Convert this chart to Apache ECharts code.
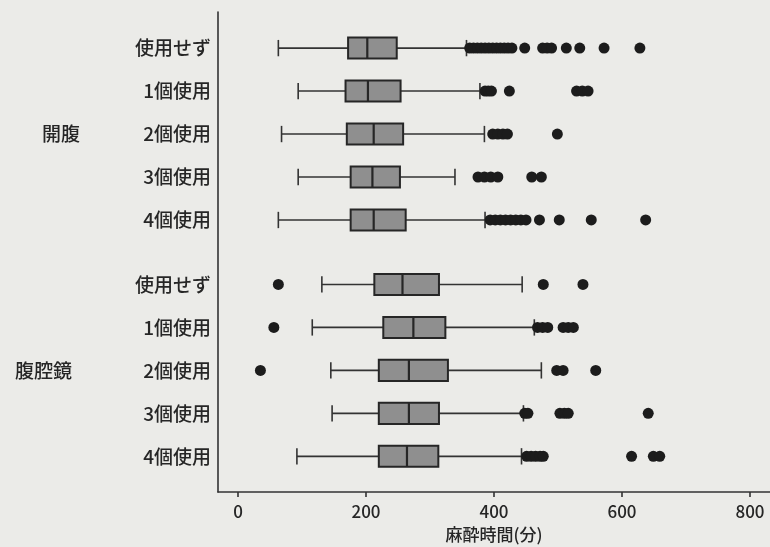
<!DOCTYPE html>
<html>
<head>
<meta charset="utf-8">
<script src="https://cdn.jsdelivr.net/npm/echarts@6/dist/echarts.min.js"></script>
<style>
  html, body { margin: 0; padding: 0; background: #ebebe8; }
  #chart { width: 770px; height: 547px; }
</style>
</head>
<body>
<div id="chart"></div>
<script>
// Anaesthesia time (minutes) by number of devices used, open vs. laparoscopic surgery
const groupLabels = ['開腹', '腹腔鏡'];
const rowLabels = ['使用せず', '1個使用', '2個使用', '3個使用', '4個使用',
                   '使用せず', '1個使用', '2個使用', '3個使用', '4個使用'];

const whiskerLow  = [63, 94, 68, 94, 63, 131, 116, 145, 147, 92];
const quartile1   = [172, 168, 170, 176, 176, 213, 227, 220, 220, 220];
const medians     = [202, 203, 212, 210, 212, 257, 274, 267, 267, 264];
const quartile3   = [248, 254, 258, 253, 262, 314, 324, 328, 314, 313];
const whiskerHigh = [357, 378, 385, 339, 386, 444, 463, 474, 446, 443];

const outliers = [
  [362, 368, 374, 380, 386, 392, 398, 404, 410, 416, 422, 428, 448, 476, 483, 490, 513, 534, 572, 628],
  [386, 391, 396, 424, 529, 538, 547],
  [398, 406, 414, 421, 499],
  [375, 385, 395, 406, 459, 474],
  [394, 402, 410, 418, 426, 434, 442, 450, 471, 502, 552, 637],
  [63, 477, 539],
  [56, 468, 476, 484, 508, 516, 524],
  [35, 498, 508, 559],
  [448, 453, 503, 510, 516, 641],
  [451, 458, 465, 472, 477, 615, 649, 659]
];

const xTicks = [0, 200, 400, 600, 800];

// rows sit one unit apart, with an extra half unit between the two groups
const rowsPerGroup = 5;
const groupGap = 0.5;
const rowPos = rowLabels.map((_, i) => i + Math.floor(i / rowsPerGroup) * groupGap);
const groupPos = groupLabels.map((_, g) => (rowPos[g * rowsPerGroup] + rowPos[g * rowsPerGroup + rowsPerGroup - 1]) / 2);

const boxData = rowLabels.map((_, i) => [rowPos[i], whiskerLow[i], quartile1[i], medians[i], quartile3[i], whiskerHigh[i]]);
const outlierData = [];
outliers.forEach((vals, i) => vals.forEach(v => outlierData.push([v, rowPos[i]])));

const INK = '#262626';

function renderBox(params, api) {
  const y = api.value(0);
  const lo = api.coord([api.value(1), y]);
  const q1 = api.coord([api.value(2), y]);
  const md = api.coord([api.value(3), y]);
  const q3 = api.coord([api.value(4), y]);
  const hi = api.coord([api.value(5), y]);
  const band = api.size([0, 1])[1];
  const hb = band * 0.245;
  const hc = band * 0.19;
  const cy = lo[1];
  const thin = { stroke: '#333333', lineWidth: 1.6 };
  return {
    type: 'group',
    children: [
      { type: 'line', shape: { x1: lo[0], y1: cy, x2: q1[0], y2: cy }, style: thin },
      { type: 'line', shape: { x1: q3[0], y1: cy, x2: hi[0], y2: cy }, style: thin },
      { type: 'line', shape: { x1: lo[0], y1: cy - hc, x2: lo[0], y2: cy + hc }, style: thin },
      { type: 'line', shape: { x1: hi[0], y1: cy - hc, x2: hi[0], y2: cy + hc }, style: thin },
      { type: 'rect', shape: { x: q1[0], y: cy - hb, width: q3[0] - q1[0], height: 2 * hb },
        style: { fill: '#8f8f8f', stroke: INK, lineWidth: 2 } },
      { type: 'line', shape: { x1: md[0], y1: cy - hb, x2: md[0], y2: cy + hb },
        style: { stroke: INK, lineWidth: 2.2 } }
    ]
  };
}

const chart = echarts.init(document.getElementById('chart'));
const textStyle = { color: '#262626', fontWeight: 500, fontFamily: '"Noto Sans CJK JP", "Noto Sans", sans-serif' };

chart.setOption({
  backgroundColor: '#ebebe8',
  animation: false,
  grid: { left: 218, right: 0, top: 12, bottom: 55, outerBoundsMode: 'none' },
  xAxis: {
    type: 'value',
    min: -31.3,
    max: 831.3,
    splitLine: { show: false },
    axisLine: { onZero: false, lineStyle: { color: '#333333', width: 1.6 } },
    axisTick: { customValues: xTicks, length: 5, lineStyle: { color: '#333333', width: 1.6 } },
    axisLabel: { customValues: xTicks, fontSize: 17, margin: 11, ...textStyle },
    name: '麻酔時間(分)',
    nameLocation: 'middle',
    nameGap: 34,
    nameTextStyle: { fontSize: 17, ...textStyle }
  },
  yAxis: [
    {
      type: 'value',
      inverse: true,
      min: -0.84,
      max: 10.33,
      splitLine: { show: false },
      axisTick: { show: false },
      axisLine: { show: true, onZero: false, lineStyle: { color: '#333333', width: 1.6 } },
      axisLabel: {
        customValues: rowPos,
        fontSize: 19,
        margin: 7,
        ...textStyle,
        formatter: v => rowLabels[rowPos.indexOf(v)]
      }
    },
    {
      type: 'value',
      inverse: true,
      position: 'left',
      offset: 130,
      min: -0.84,
      max: 10.33,
      splitLine: { show: false },
      axisTick: { show: false },
      axisLine: { show: false, onZero: false },
      axisLabel: {
        customValues: groupPos,
        fontSize: 19,
        margin: 8,
        ...textStyle,
        formatter: v => {
          const g = groupPos.indexOf(v);
          return g === 0 ? '{a|' + groupLabels[g] + '}' : '{b|' + groupLabels[g] + '}';
        },
        rich: {
          a: { fontSize: 19, ...textStyle },
          b: { fontSize: 19, padding: [0, 8, 0, 0], ...textStyle }
        }
      }
    }
  ],
  series: [
    {
      type: 'custom',
      renderItem: renderBox,
      data: boxData,
      encode: { x: [1, 2, 3, 4, 5], y: 0 },
      z: 2
    },
    {
      type: 'scatter',
      data: outlierData,
      symbol: 'circle',
      symbolSize: 11,
      itemStyle: { color: '#1c1c1c', opacity: 1 },
      z: 3
    }
  ]
});
</script>
</body>
</html>
